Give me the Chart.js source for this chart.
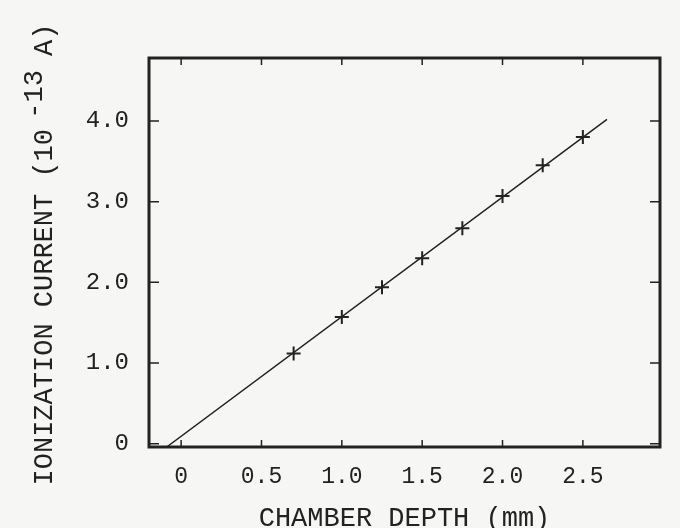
<!DOCTYPE html>
<html>
<head>
<meta charset="utf-8">
<script src="https://cdn.jsdelivr.net/npm/chart.js@4"></script>
<style>
  html, body { margin: 0; padding: 0; background: #f6f6f4; }
  #wrap { width: 680px; height: 528px; }
</style>
</head>
<body>
<div id="wrap"><canvas id="myChart" width="680" height="528"></canvas></div>
<script>
/* DATA */
const depthMm = [0.7, 1.0, 1.25, 1.5, 1.75, 2.0, 2.25, 2.5];
const currentVals = [1.12, 1.57, 1.94, 2.30, 2.67, 3.07, 3.45, 3.80];
const fitDepth = [-0.09, 2.65];
const fitCurrent = [-0.04, 4.02];
const xTickVals = [0, 0.5, 1.0, 1.5, 2.0, 2.5];
const yTickVals = [0, 1.0, 2.0, 3.0, 4.0];

const ink = '#222222';
const typeFont = "'Liberation Mono', 'DejaVu Sans Mono', monospace";

/* frame + inward ticks + y title with superscript */
const frameTicks = {
    id: 'frameTicks',
    afterDraw(chart){
        const ctx = chart.ctx;
        const a = chart.chartArea;
        const xs = chart.scales.x, ys = chart.scales.y;
        ctx.save();
        ctx.strokeStyle = ink;
        ctx.lineWidth = 1.5;
        ctx.beginPath();
        xs.ticks.forEach(t => {
            const px = xs.getPixelForValue(t.value);
            ctx.moveTo(px, a.bottom); ctx.lineTo(px, a.bottom - 7);
            ctx.moveTo(px, a.top); ctx.lineTo(px, a.top + 7);
        });
        ys.ticks.forEach(t => {
            const py = ys.getPixelForValue(t.value);
            ctx.moveTo(a.left, py); ctx.lineTo(a.left + 10, py);
            ctx.moveTo(a.right, py); ctx.lineTo(a.right - 10, py);
        });
        ctx.stroke();
        ctx.lineWidth = 3;
        ctx.strokeRect(a.left, a.top, a.right - a.left, a.bottom - a.top);

        // y axis title
        const base = 'IONIZATION CURRENT (10 ';
        const sup = '-13';
        const tail = ' A)';
        ctx.fillStyle = ink;
        ctx.textBaseline = 'middle';
        ctx.textAlign = 'left';
        ctx.translate(45, (a.top + a.bottom) / 2 - 2);
        ctx.rotate(-Math.PI / 2);
        ctx.font = '27px ' + typeFont;
        const wb = ctx.measureText(base).width;
        const wt = ctx.measureText(tail).width;
        const ws = ctx.measureText(sup).width;
        let x0 = -(wb + ws + wt) / 2;
        ctx.fillText(base, x0, 0);
        ctx.fillText(sup, x0 + wb - 6, -10);
        ctx.fillText(tail, x0 + wb + ws - 8, 0);
        ctx.restore();
    }
};

const data = {
    datasets: [{
        label: 'measured',
        data: depthMm.map((x, i) => ({x: x, y: currentVals[i]})),
        showLine: false,
        pointStyle: 'cross',
        pointRadius: 7,
        pointBorderWidth: 2,
        borderColor: ink,
        backgroundColor: ink
    }, {
        label: 'fit',
        data: fitDepth.map((x, i) => ({x: x, y: fitCurrent[i]})),
        showLine: true,
        pointRadius: 0,
        borderColor: ink,
        borderWidth: 1.5
    }]
};

const config = {
    type: 'scatter',
    data,
    options: {
        responsive: false,
        animation: false,
        layout: { padding: { left: 0, right: 20, top: 58, bottom: 0 } },
        plugins: { legend: { display: false }, tooltip: { enabled: false } },
        scales: {
            x: {
                type: 'linear',
                min: -0.2,
                max: 2.98,
                afterBuildTicks: s => { s.ticks = xTickVals.map(v => ({value: v})); },
                afterFit: s => { s.height = 81; },
                grid: { display: false },
                border: { display: false },
                ticks: {
                    color: ink,
                    padding: 8,
                    font: { family: typeFont, size: 23 },
                    callback: v => v === 0 ? '0' : v.toFixed(1)
                },
                title: {
                    display: true,
                    text: 'CHAMBER DEPTH (mm)',
                    color: ink,
                    font: { family: typeFont, size: 27, lineHeight: 1 },
                    padding: { top: 0, bottom: -4 }
                }
            },
            y: {
                type: 'linear',
                min: -0.04,
                max: 4.78,
                afterBuildTicks: s => { s.ticks = yTickVals.map(v => ({value: v})); },
                afterFit: s => { s.width = 149; },
                grid: { display: false },
                border: { display: false },
                ticks: {
                    color: ink,
                    padding: 12,
                    font: { family: typeFont, size: 24 },
                    callback: v => v === 0 ? '0' : v.toFixed(1)
                },
                title: { display: false }
            }
        }
    },
    plugins: [frameTicks]
};

let myChart = new Chart(
    document.getElementById('myChart'),
    config
);
</script>
</body>
</html>
